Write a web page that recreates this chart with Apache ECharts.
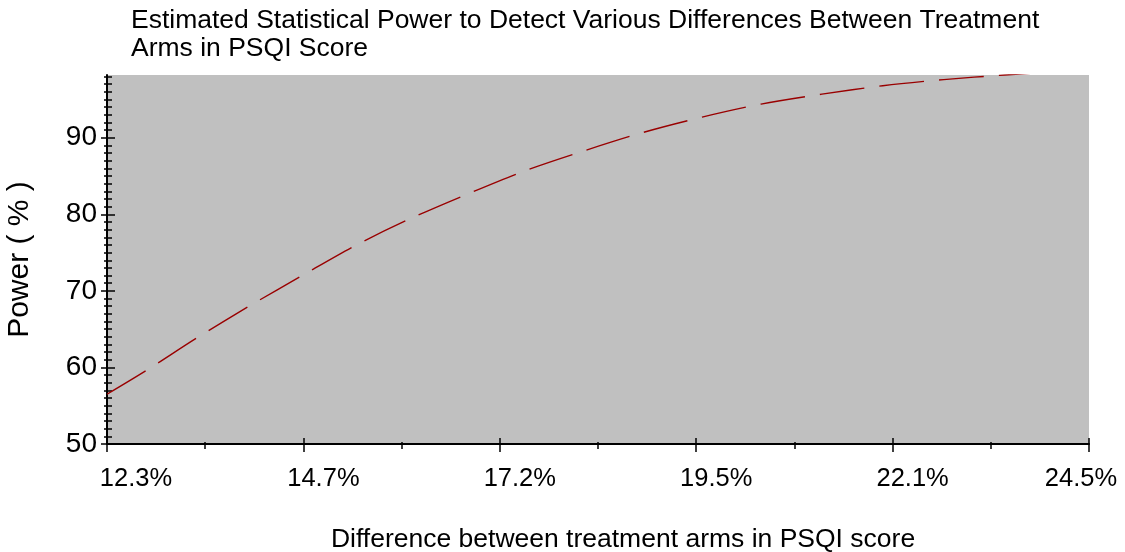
<!DOCTYPE html>
<html>
<head>
<meta charset="utf-8">
<script src="https://cdn.jsdelivr.net/npm/echarts@6/dist/echarts.min.js"></script>
<style>
  html, body { margin: 0; padding: 0; background: #fff; }
  #main { width: 1125px; height: 552px; }
</style>
</head>
<body>
<div id="main"></div>
<script>
// tick labels on the x axis (evenly spaced positions 0..5)
var xLabels = ["12.3%", "14.7%", "17.2%", "19.5%", "22.1%", "24.5%"];
var yTicks = [50, 60, 70, 80, 90];

// curve: position along the x axis and power (%)
var xPos = [0, 0.2, 0.46, 0.73, 1.0, 1.27, 1.55, 1.84, 2.13, 2.43, 2.73, 3.03, 3.33, 3.64, 3.95, 4.26, 4.57, 4.88];
var power = [56.5, 59.6, 63.9, 68.1, 72.1, 76.0, 79.5, 82.7, 85.7, 88.3, 90.7, 92.7, 94.4, 95.7, 96.8, 97.6, 98.2, 98.7];

var yMinor = [];
for (var v = 50; v <= 98; v++) {
  yMinor.push(v);
}

var font = "'Liberation Sans', Arial, sans-serif";
var black = "#000";

var myChart = echarts.init(document.getElementById("main"));

// extra x axes only used to draw ticks that cross the axis line
function tickAxis(interval, length, inside) {
  return {
    type: "value",
    position: "bottom",
    min: 0,
    max: 5,
    interval: interval,
    axisLine: { show: false },
    axisTick: { show: true, inside: inside, length: length, lineStyle: { color: black, width: 1.5 } },
    axisLabel: { show: false },
    splitLine: { show: false }
  };
}

function yTickAxis(length, inside, values) {
  return {
    type: "value",
    position: "left",
    min: 50,
    max: 98.2,
    axisLine: { show: false },
    axisTick: { show: true, inside: inside, length: length, customValues: values, lineStyle: { color: black, width: 1.5 } },
    axisLabel: { show: false },
    splitLine: { show: false }
  };
}

var option = {
  animation: false,
  textStyle: { fontFamily: font },
  title: {
    text: "Estimated Statistical Power to Detect Various Differences Between Treatment\nArms in PSQI Score",
    left: 126,
    top: 2,
    textStyle: { fontFamily: font, fontSize: 26.5, fontWeight: "normal", color: black, lineHeight: 28 }
  },
  grid: {
    left: 107,
    right: 36,
    top: 75,
    bottom: 108,
    containLabel: false,
    outerBoundsMode: "none",
    show: true,
    backgroundColor: "#c0c0c0",
    borderWidth: 0
  },
  xAxis: [
    {
      type: "value",
      position: "bottom",
      min: 0,
      max: 5,
      interval: 1,
      name: "Difference between treatment arms in PSQI score",
      nameLocation: "middle",
      nameGap: 82,
      nameTextStyle: { fontFamily: font, fontSize: 26.5, color: black, padding: [0, 0, 0, 50] },
      axisLine: { show: true, lineStyle: { color: black, width: 2 } },
      axisTick: { show: true, length: 8, lineStyle: { color: black, width: 1.5 } },
      axisLabel: {
        margin: 22,
        color: black,
        fontSize: 25.5,
        fontFamily: font,
        formatter: function (value) {
          var i = Math.round(value);
          var style = i === 0 ? "first" : i === xLabels.length - 1 ? "last" : "mid";
          return "{" + style + "|" + xLabels[i] + "}";
        },
        rich: {
          first: { fontSize: 25.5, fontFamily: font, color: black, padding: [0, 0, 0, 58] },
          mid: { fontSize: 25.5, fontFamily: font, color: black, padding: [0, 0, 0, 40] },
          last: { fontSize: 25.5, fontFamily: font, color: black, padding: [0, 16, 0, 0] }
        }
      },
      splitLine: { show: false }
    },
    tickAxis(1, 6, true),
    tickAxis(0.5, 5, false),
    tickAxis(0.5, 2, true)
  ],
  yAxis: [
    {
      type: "value",
      position: "left",
      min: 50,
      max: 98.2,
      name: "Power ( % )",
      nameLocation: "middle",
      nameGap: 72,
      nameRotate: 90,
      nameTextStyle: { fontFamily: font, fontSize: 30, color: black },
      axisLine: { show: true, lineStyle: { color: black, width: 2 } },
      axisTick: { show: true, length: 6, customValues: yTicks, lineStyle: { color: black, width: 1.5 } },
      axisLabel: { margin: 10, color: black, fontSize: 28, fontFamily: font, customValues: yTicks },
      splitLine: { show: false }
    },
    yTickAxis(8, true, yTicks),
    yTickAxis(3, false, yMinor),
    yTickAxis(5, true, yMinor)
  ],
  series: [
    {
      type: "line",
      xAxisIndex: 0,
      yAxisIndex: 0,
      data: xPos.map(function (x, i) { return [x, power[i]]; }),
      smooth: 0.3,
      showSymbol: false,
      clip: true,
      lineStyle: { color: "#990000", width: 1.4, type: [45, 15] }
    }
  ]
};

myChart.setOption(option);
</script>
</body>
</html>
